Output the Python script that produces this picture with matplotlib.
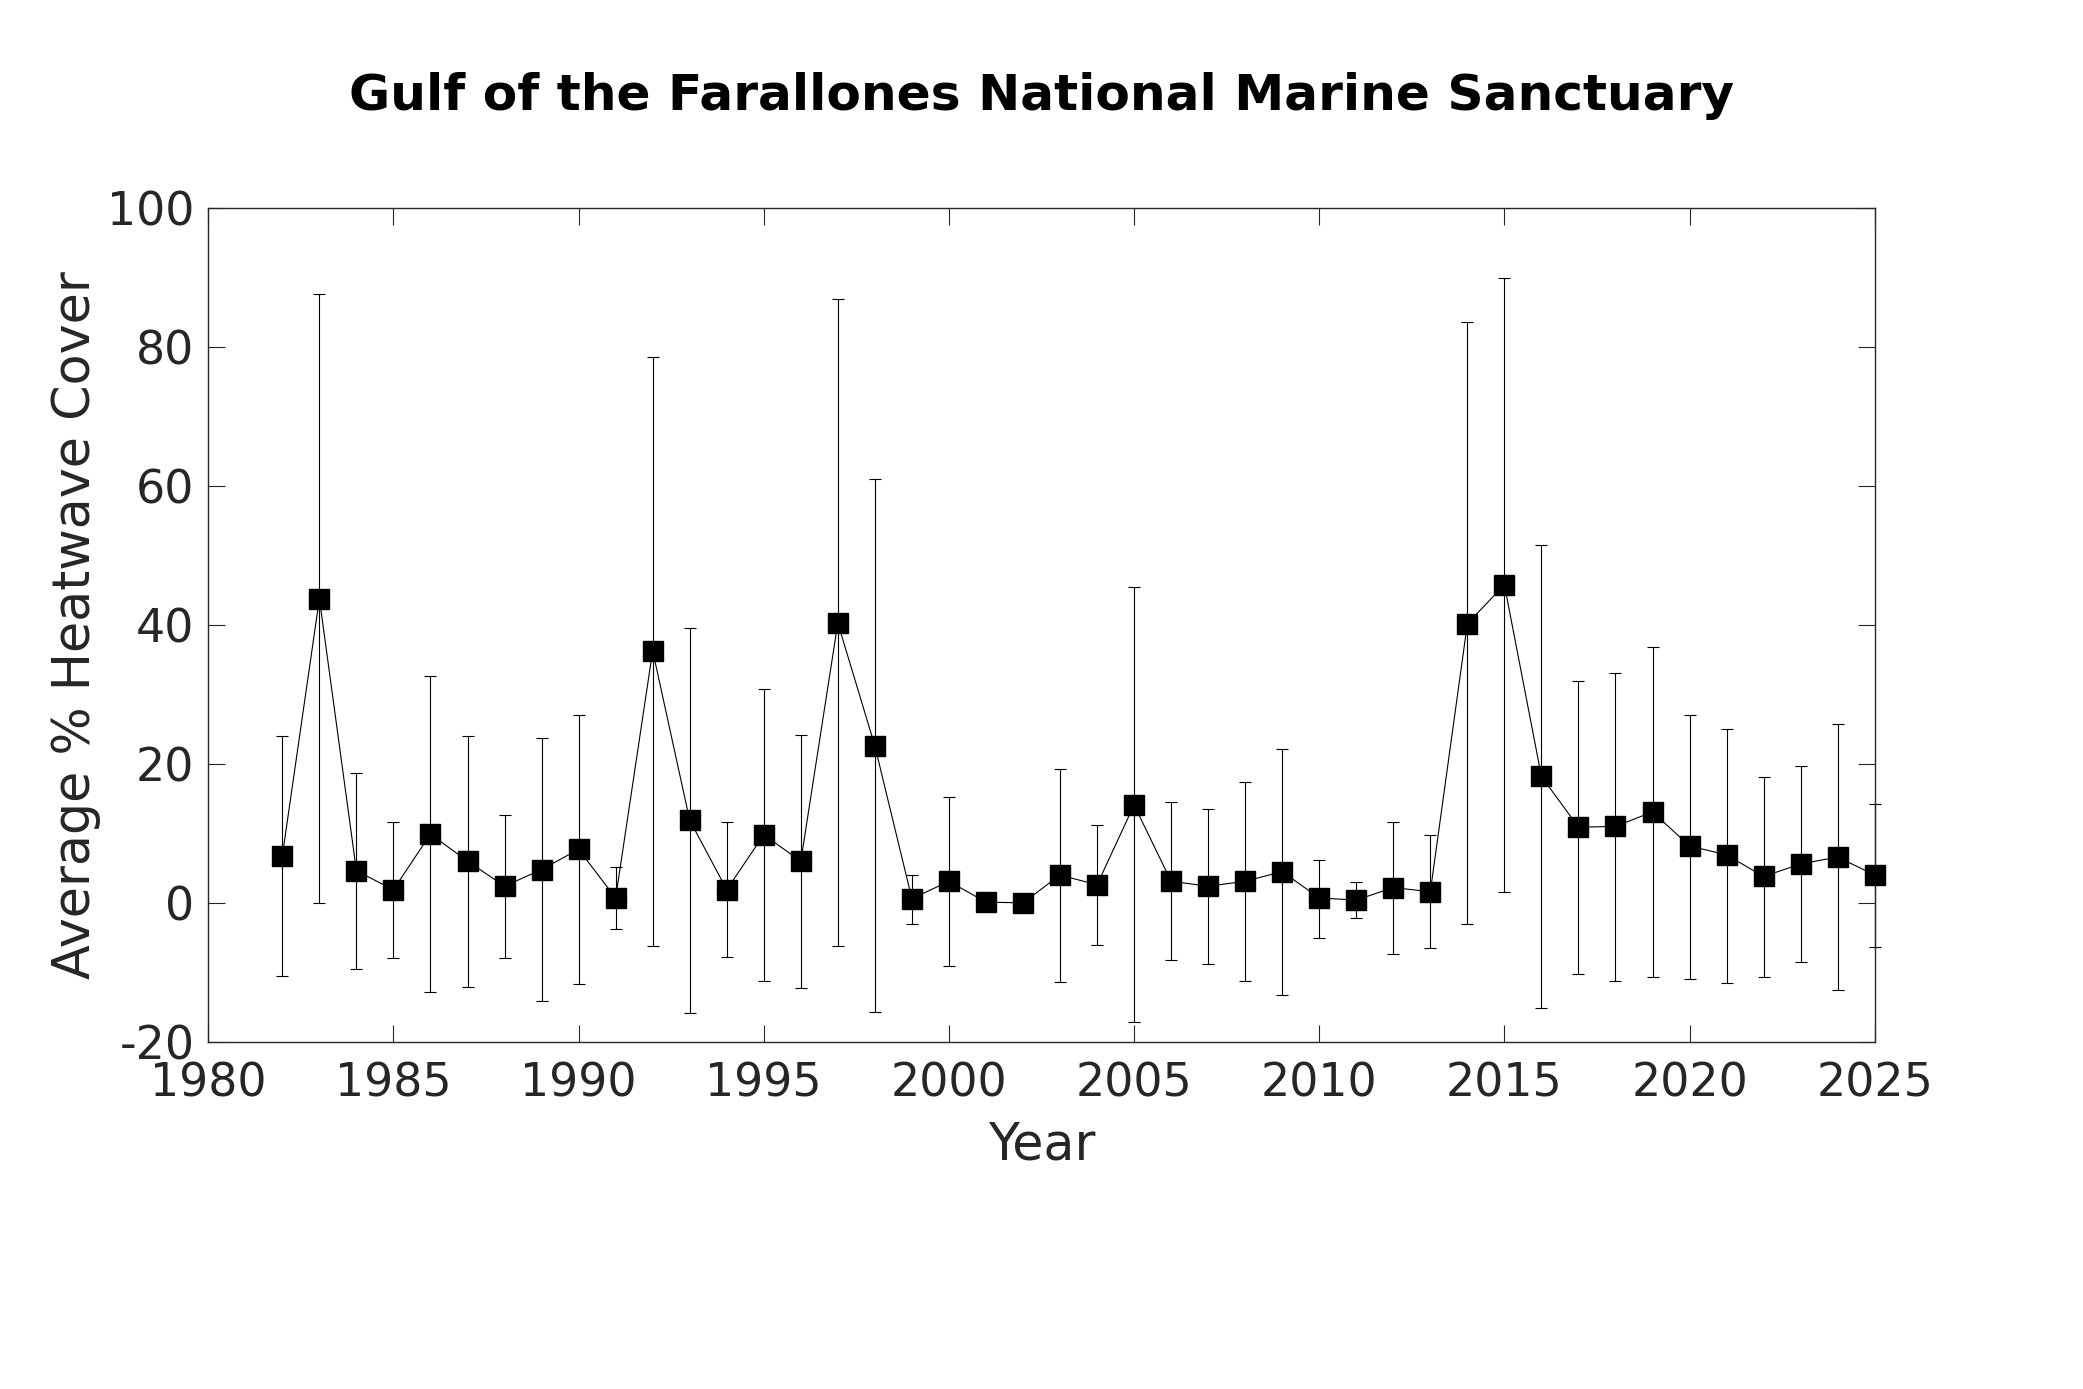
import numpy as np
import matplotlib
matplotlib.use('Agg')
import matplotlib.pyplot as plt

# Valores (media anual y extremos de la barra de error)
anios = np.arange(1982, 2026)
media = [6.8, 43.8, 4.6, 1.9, 9.9, 6.0, 2.4, 4.8, 7.7, 0.7,
         36.3, 11.9, 1.9, 9.8, 6.0, 40.3, 22.6, 0.6, 3.1, 0.1,
         0.0, 4.0, 2.6, 14.1, 3.1, 2.4, 3.1, 4.5, 0.7, 0.4,
         2.2, 1.6, 40.2, 45.8, 18.2, 10.9, 11.0, 13.1, 8.2, 6.9,
         3.8, 5.6, 6.6, 4.0]
sup = [24.0, 87.7, 18.7, 11.6, 32.6, 24.0, 12.6, 23.7, 27.1, 5.1,
       78.6, 39.6, 11.6, 30.8, 24.1, 86.9, 61.0, 4.0, 15.2, 0.1,
       0.0, 19.3, 11.2, 45.5, 14.5, 13.5, 17.4, 22.2, 6.2, 3.0,
       11.7, 9.8, 83.6, 89.9, 51.5, 32.0, 33.1, 36.9, 27.1, 25.1,
       18.1, 19.7, 25.7, 14.3]
inf = [-10.5, 0.0, -9.5, -7.9, -12.9, -12.1, -7.9, -14.2, -11.7, -3.8,
       -6.2, -15.9, -7.8, -11.2, -12.2, -6.2, -15.7, -3.1, -9.1, 0.1,
       0.0, -11.4, -6.1, -17.1, -8.3, -8.8, -11.3, -13.3, -5.0, -2.2,
       -7.3, -6.5, -3.1, 1.6, -15.1, -10.2, -11.2, -10.7, -10.9, -11.5,
       -10.7, -8.5, -12.6, -6.4]

media = np.array(media)
err_sup = np.array(sup) - media
err_inf = media - np.array(inf)

gris = '#262626'
plt.rcParams.update({'font.family': 'DejaVu Sans', 'axes.unicode_minus': False})

fig = plt.figure(figsize=(20.83, 13.89), dpi=100)
ax = fig.add_axes([0.1, 0.25, 0.8, 0.6])

ax.errorbar(anios, media, yerr=[err_inf, err_sup], fmt='-', color='black',
            linewidth=0.8, elinewidth=0.8, capsize=4, capthick=0.8, clip_on=False)
ax.plot(anios, media, 's', color='black', markersize=14.5, clip_on=False, zorder=3)

ax.set_xlim(1980, 2025)
ax.set_ylim(-20, 100)
ax.set_xticks(np.arange(1980, 2026, 5))
ax.set_yticks(np.arange(-20, 101, 20))

for s in ax.spines.values():
    s.set_color(gris)
    s.set_linewidth(1.0)
ax.tick_params(direction='in', top=True, right=True, length=12, width=0.8,
               colors=gris, labelsize=33, pad=10)
ax.tick_params(axis='x', pad=14)

ax.set_xlabel('Year', fontsize=36.5, color=gris, labelpad=10)
ax.set_ylabel('Average % Heatwave Cover', fontsize=36.5, color=gris, labelpad=4)
ax.set_title('Gulf of the Farallones National Marine Sanctuary', fontsize=36.2,
             fontweight='bold', color='black', pad=71)

fig.savefig('out.png', dpi=100)
